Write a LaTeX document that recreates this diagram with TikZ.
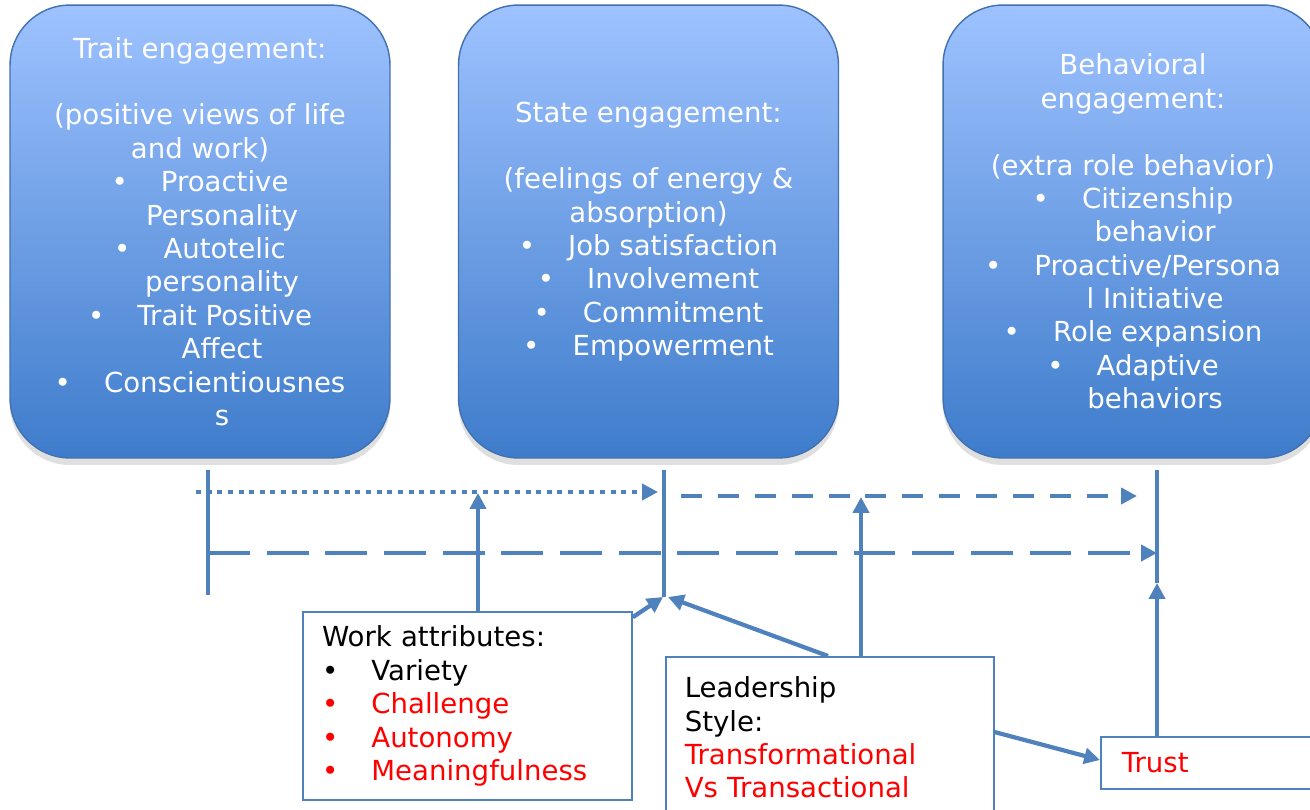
\documentclass[tikz,border=0pt]{standalone}
\usepackage{fontspec}
\setmainfont{DejaVu Sans}
\usetikzlibrary{arrows.meta, shadows, calc}

\definecolor{engtop}{RGB}{158,194,255}
\definecolor{engbot}{RGB}{62,124,203}
\definecolor{engedge}{RGB}{65,113,175}
\definecolor{linkblue}{RGB}{79,129,189}
\definecolor{hotred}{RGB}{255,0,0}

% bullet and hanging continuation inside centred lists
\newcommand{\bul}{\textbullet\hspace{1.2em}}
\newcommand{\cont}{\hspace*{1.6em}}

\begin{document}
\begin{tikzpicture}[
  x=0.02cm, y=-0.02cm,
  >={Triangle[length=9pt, width=9pt]},
  every node/.style={font=\fontsize{15.7}{19}\selectfont},
  engbox/.style={draw=engedge, line width=0.8pt, rounded corners=1.2cm,
                 top color=engtop, bottom color=engbot, text=white,
                 align=center, minimum width=7.6cm, minimum height=9.06cm,
                 inner sep=0pt,
                 drop shadow={opacity=0.25, shadow xshift=0pt, shadow yshift=-4pt}},
  factor/.style={draw=linkblue, line width=0.9pt, fill=white, align=left,
                 inner xsep=0.38cm},
  bar/.style={linkblue, line width=2.4pt},
  link/.style={->, linkblue, line width=2.4pt}
]
\path[use as bounding box, fill=white] (0,0) rectangle (1310,809);

% ---- ENGAGEMENT BOXES ----
\node[engbox] (trait) at (200,231.5) {%
  Trait engagement:\\[19pt]
  (positive views of life\\
  and work)\\
  \bul Proactive\\
  \cont Personality\\
  \bul Autotelic\\
  \cont personality\\
  \bul Trait Positive\\
  \cont Affect\\
  \bul Conscientiousnes\\
  \cont s};

\node[engbox] (state) at (648.5,231.5) {%
  State engagement:\\[19pt]
  (feelings of energy \&\\
  absorption)\\
  \bul Job satisfaction\\
  \bul Involvement\\
  \bul Commitment\\
  \bul Empowerment};

\node[engbox] (behav) at (1133,231.5) {%
  Behavioral\\
  engagement:\\[19pt]
  (extra role behavior)\\
  \bul Citizenship\\
  \cont behavior\\
  \bul Proactive/Persona\\
  \cont l Initiative\\
  \bul Role expansion\\
  \bul Adaptive\\
  \cont behaviors};

% ---- ANTECEDENT BOXES ----
\node[factor, text width=5.82cm, inner ysep=4pt, minimum height=3.76cm]
  (work) at (467.5,706) {%
  Work attributes:\\
  \bul Variety\\
  \textcolor{hotred}{\bul Challenge}\\
  \textcolor{hotred}{\bul Autonomy}\\
  \textcolor{hotred}{\bul Meaningfulness}};

\node[factor, anchor=north west, text width=5.8cm, inner ysep=0.4cm]
  (lead) at (665,656) {%
  Leadership\\
  Style:\\
  \textcolor{hotred}{Transformational}\\
  \textcolor{hotred}{Vs Transactional}};

\node[factor, anchor=west, text width=4cm, inner xsep=0.42cm, inner ysep=0pt,
      minimum height=1.04cm]
  (trust) at (1100,763) {\textcolor{hotred}{Trust}};

% ---- TIME BARS ----
\coordinate (v1t) at (208,470);
\coordinate (v1b) at (208,595);
\coordinate (v2t) at (664,470);
\coordinate (v2b) at (664,597);
\coordinate (v3t) at (1157,470);
\coordinate (v3b) at (1157,583);
\draw[bar] (v1t) -- (v1b);
\draw[bar] (v2t) -- (v2b);
\draw[bar] (v3t) -- (v3b);

% ---- HORIZONTAL LINKS ----
\coordinate (dotL) at (196,492);
\coordinate (dotR) at (658,492);
\draw[link, dash pattern=on 2.85pt off 3.2pt] (dotL) -- (dotR);

\coordinate (sdL) at (681,496);
\coordinate (sdR) at (1137,496);
\draw[link, dash pattern=on 11.9pt off 9.1pt] (sdL) -- (sdR);

\coordinate (ldL) at (208,553);
\draw[link, dash pattern=on 23.8pt off 9.6pt] (ldL) -- (v3t |- ldL);

% ---- UPWARD LINKS ----
\coordinate (workHit) at (478,493);
\coordinate (leadHit) at (861,497);
\draw[link] (work.north -| workHit) -- (workHit);
\draw[link] (lead.north -| leadHit) -- (leadHit);
\draw[link] (trust.north -| v3b) -- (v3b);

% ---- DIAGONAL LINKS ----
\draw[link] ($(work.north east)+(0,6)$) -- ($(v2b)+(-1,0)$);
\draw[link] ($(lead.north west)+(163,0)$) -- ($(v2b)+(4,0)$);
\draw[link] ($(lead.north east)+(0,76)$) -- ($(trust.west)+(0,-3)$);

\end{tikzpicture}
\end{document}
